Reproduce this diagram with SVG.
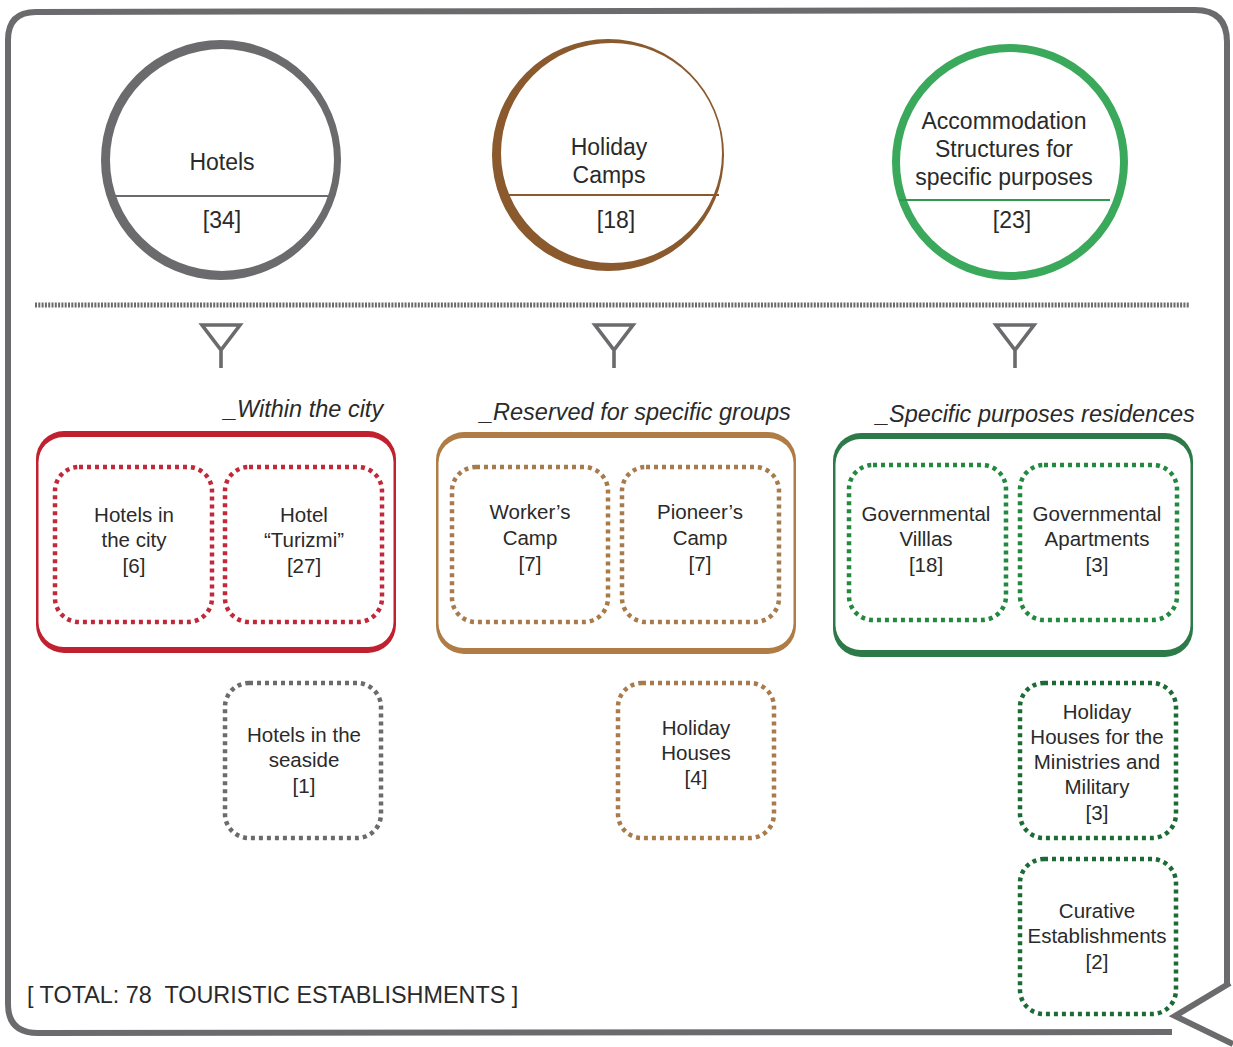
<svg xmlns="http://www.w3.org/2000/svg" width="1233" height="1047" viewBox="0 0 1233 1047">
<style>
text{font-family:"Liberation Sans",Arial,sans-serif;fill:#2a2a2a;text-anchor:middle}
.ct{font-size:23px}
.bt{font-size:20.5px}
.lab{font-size:23.5px;font-style:italic;text-anchor:start}
.tot{font-size:23.4px;text-anchor:start;white-space:pre}
.dot{fill:none;stroke-width:4.5;stroke-dasharray:4 4}
.funnel{fill:none;stroke:#6b6b6d;stroke-width:3.6;stroke-linejoin:miter}
</style>
<rect width="1233" height="1047" fill="#ffffff"/>
<!-- frame -->
<g id="frame">
<path d="M1227 983 L1227 42 Q1227 10 1195 10 L36 12 Q8 12 8 40 L8 1004 Q8 1033 38 1033 L1172 1032" fill="none" stroke="#6b6b6d" stroke-width="6"/>
<polyline points="1230,983 1175,1016 1233,1044" fill="none" stroke="#6b6b6d" stroke-width="6" stroke-linejoin="miter"/>
</g>
<!-- circles -->
<g id="hotels">
<path d="M101 160 a120 120 0 1 0 240 0 a120 120 0 1 0 -240 0 Z M110 160 a112 111 0 1 0 224 0 a112 111 0 1 0 -224 0 Z" fill="#6b6b6d" fill-rule="evenodd"/>
<line x1="113" y1="196" x2="329" y2="196" stroke="#6b6b6d" stroke-width="2"/>
<text class="ct" x="222" y="170">Hotels</text>
<text class="ct" x="222" y="228">[34]</text>
</g>
<g id="holiday-camps">
<path d="M492 155 a116 116 0 1 0 232 0 a116 116 0 1 0 -232 0 Z M501 153 a110.5 110 0 1 0 221 0 a110.5 110 0 1 0 -221 0 Z" fill="#8a5a2e" fill-rule="evenodd"/>
<line x1="506" y1="195" x2="719" y2="195" stroke="#8a5a2e" stroke-width="2"/>
<text class="ct" x="609" y="155">Holiday</text>
<text class="ct" x="609" y="183">Camps</text>
<text class="ct" x="616" y="228">[18]</text>
</g>
<g id="accommodation">
<circle cx="1010" cy="162" r="114" fill="none" stroke="#3aa95c" stroke-width="8"/>
<line x1="899" y1="200" x2="1110" y2="200" stroke="#2f9a4e" stroke-width="2"/>
<text class="ct" x="1004" y="129">Accommodation</text>
<text class="ct" x="1004" y="157">Structures for</text>
<text class="ct" x="1004" y="185">specific purposes</text>
<text class="ct" x="1012" y="228">[23]</text>
</g>
<!-- separator and funnels -->
<g id="connectors">
<line x1="35" y1="305" x2="1189" y2="305" stroke="#6b6b6d" stroke-width="5" stroke-dasharray="2 1.3"/>
<path class="funnel" d="M202 325 L240 325 L221 350 Z M221 350 L221 368"/>
<path class="funnel" d="M595 325 L633 325 L614 350 Z M614 350 L614 368"/>
<path class="funnel" d="M996 325 L1034 325 L1015 350 Z M1015 350 L1015 368"/>
</g>
<!-- section labels -->
<g id="labels">
<text class="lab" x="224" y="417">_Within the city</text>
<text class="lab" x="480" y="420">_Reserved for specific groups</text>
<text class="lab" x="876" y="422">_Specific purposes residences</text>
</g>
<!-- group boxes -->
<g id="group-city">
<rect x="36" y="431" width="360" height="222" rx="28" fill="#c1202f"/>
<rect x="38.5" y="437" width="355" height="210" rx="25" fill="#ffffff"/>
</g>
<g id="group-reserved">
<rect x="436" y="432" width="360" height="222" rx="28" fill="#b07c45"/>
<rect x="438.5" y="438" width="355" height="210" rx="25" fill="#ffffff"/>
</g>
<g id="group-specific">
<rect x="833" y="433" width="360" height="224" rx="28" fill="#2d7a48"/>
<rect x="835.5" y="439" width="355" height="211" rx="25" fill="#ffffff"/>
</g>
<!-- inner boxes -->
<g id="hotels-in-city">
<rect class="dot" x="55" y="467" width="157" height="155" rx="24" stroke="#c1283a"/>
<text class="bt" x="134" y="522">Hotels in</text>
<text class="bt" x="134" y="547">the city</text>
<text class="bt" x="134" y="573">[6]</text>
</g>
<g id="hotel-turizmi">
<rect class="dot" x="225" y="467" width="157" height="155" rx="24" stroke="#c1283a"/>
<text class="bt" x="304" y="522">Hotel</text>
<text class="bt" x="304" y="547">“Turizmi”</text>
<text class="bt" x="304" y="573">[27]</text>
</g>
<g id="workers-camp">
<rect class="dot" x="452" y="467" width="156" height="155" rx="24" stroke="#a87b4c"/>
<text class="bt" x="530" y="519">Worker’s</text>
<text class="bt" x="530" y="545">Camp</text>
<text class="bt" x="530" y="571">[7]</text>
</g>
<g id="pioneers-camp">
<rect class="dot" x="622" y="467" width="157" height="155" rx="24" stroke="#a87b4c"/>
<text class="bt" x="700" y="519">Pioneer’s</text>
<text class="bt" x="700" y="545">Camp</text>
<text class="bt" x="700" y="571">[7]</text>
</g>
<g id="governmental-villas">
<rect class="dot" x="849" y="465" width="157" height="155" rx="24" stroke="#22893f"/>
<text class="bt" x="926" y="521">Governmental</text>
<text class="bt" x="926" y="546">Villlas</text>
<text class="bt" x="926" y="572">[18]</text>
</g>
<g id="governmental-apartments">
<rect class="dot" x="1020" y="465" width="157" height="155" rx="24" stroke="#22893f"/>
<text class="bt" x="1097" y="521">Governmental</text>
<text class="bt" x="1097" y="546">Apartments</text>
<text class="bt" x="1097" y="572">[3]</text>
</g>
<g id="hotels-seaside">
<rect class="dot" x="225" y="683" width="156" height="155" rx="24" stroke="#6b6b6d"/>
<text class="bt" x="304" y="742">Hotels in the</text>
<text class="bt" x="304" y="767">seaside</text>
<text class="bt" x="304" y="793">[1]</text>
</g>
<g id="holiday-houses">
<rect class="dot" x="618" y="683" width="156" height="155" rx="24" stroke="#a87b4c"/>
<text class="bt" x="696" y="735">Holiday</text>
<text class="bt" x="696" y="760">Houses</text>
<text class="bt" x="696" y="785">[4]</text>
</g>
<g id="holiday-houses-ministries">
<rect class="dot" x="1020" y="683" width="156" height="155" rx="24" stroke="#1c6b35"/>
<text class="bt" x="1097" y="719">Holiday</text>
<text class="bt" x="1097" y="744">Houses for the</text>
<text class="bt" x="1097" y="769">Ministries and</text>
<text class="bt" x="1097" y="794">Military</text>
<text class="bt" x="1097" y="820">[3]</text>
</g>
<g id="curative">
<rect class="dot" x="1020" y="859" width="156" height="155" rx="24" stroke="#1c6b35"/>
<text class="bt" x="1097" y="918">Curative</text>
<text class="bt" x="1097" y="943">Establishments</text>
<text class="bt" x="1097" y="969">[2]</text>
</g>
<g id="total">
<text class="tot" x="27" y="1003">[ TOTAL: 78  TOURISTIC ESTABLISHMENTS ]</text>
</g>
</svg>
